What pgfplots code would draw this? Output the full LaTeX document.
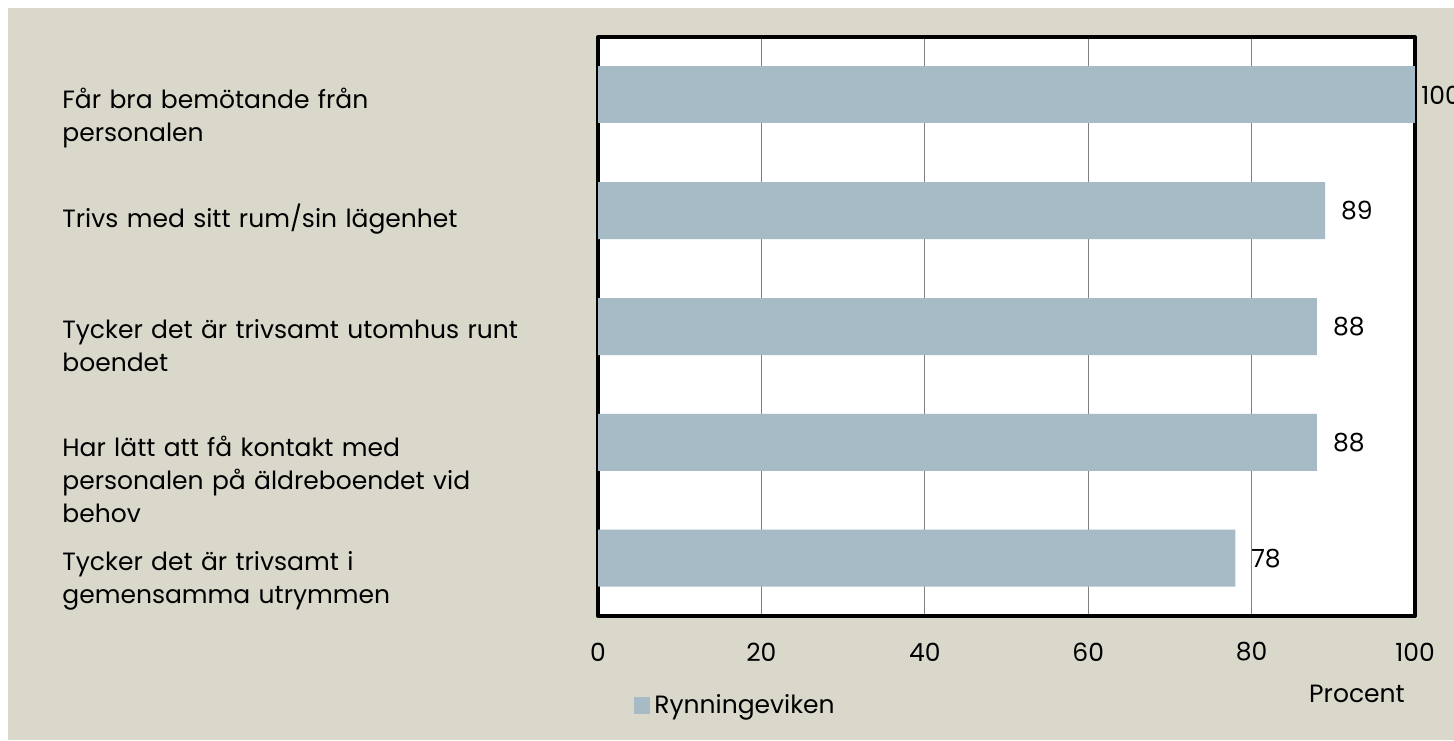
\documentclass[border=0pt]{standalone}
\usepackage{fontspec}
\setmainfont{Poppins}
\usepackage{pgfplots}
\pgfplotsset{compat=1.18}
\definecolor{BgBeige}{RGB}{218,215,203}
\definecolor{BarBlue}{RGB}{167,187,198}
\definecolor{GridGray}{RGB}{128,128,128}

\begin{document}
\begin{tikzpicture}[x=0.5pt,y=-0.5pt]
% background (white rim top/left as in the reference)
\fill[white] (0,0) rectangle (1454,740);
\fill[BgBeige] (8,8) rectangle (1454,740);
\useasboundingbox (0,0) rectangle (1454,740);

\begin{axis}[
  at={(299pt,-18.5pt)}, anchor=north west,
  scale only axis,
  width=408.5pt, height=289.5pt,
  xbar, bar width=28.5pt,
  xmin=0, xmax=100,
  ymin=0.5, ymax=5.5,
  y dir=reverse,
  axis background/.style={fill=white},
  axis line style={black, line width=2pt, line join=round},
  xtick={0,20,40,60,80,100},
  ytick={1,2,3,4,5},
  yticklabels={
    {Får bra bemötande från\\personalen},
    {Trivs med sitt rum/sin lägenhet},
    {Tycker det är trivsamt utomhus runt\\boendet},
    {Har lätt att få kontakt med\\personalen på äldreboendet vid\\behov},
    {Tycker det är trivsamt i\\gemensamma utrymmen}},
  major tick length=0pt,
  xmajorgrids, grid style={GridGray, line width=0.6pt},
  /pgf/number format/assume math mode=true,
  tick label style={font=\fontsize{12.5}{16.5}\selectfont},
  xticklabel style={anchor=center, yshift=-18pt},
  yticklabel style={anchor=north west, xshift=-268pt, yshift=3.5pt,
                    inner sep=0pt, text width=250pt, align=left},
  xlabel={Procent},
  xlabel style={at={(axis description cs:0.929,-0.135)}, anchor=center,
                font=\fontsize{12.5}{15}\selectfont},
  nodes near coords,
  nodes near coords style={font=\fontsize{12.5}{15}\selectfont, black,
                           anchor=west, xshift=4.5pt},
  legend style={at={(axis description cs:0.044,-0.154)}, anchor=west,
                draw=none, fill=none, font=\fontsize{12.5}{15}\selectfont,
                inner sep=0pt},
  legend image code/.code={\fill[BarBlue] (0pt,-4.25pt) rectangle (8pt,4.25pt);},
  legend cell align=left,
  clip=false,
]
\addplot[fill=BarBlue, draw=none, bar shift=0pt] coordinates {
  (89,2) (88,3) (88,4) (78,5)
};
\addlegendentry{Rynningeviken}
\addplot[fill=BarBlue, draw=none, bar shift=0pt,
         nodes near coords style={xshift=-1.5pt, inner sep=0pt}, forget plot] coordinates {
  (100,1)
};
\end{axis}
\end{tikzpicture}
\end{document}
